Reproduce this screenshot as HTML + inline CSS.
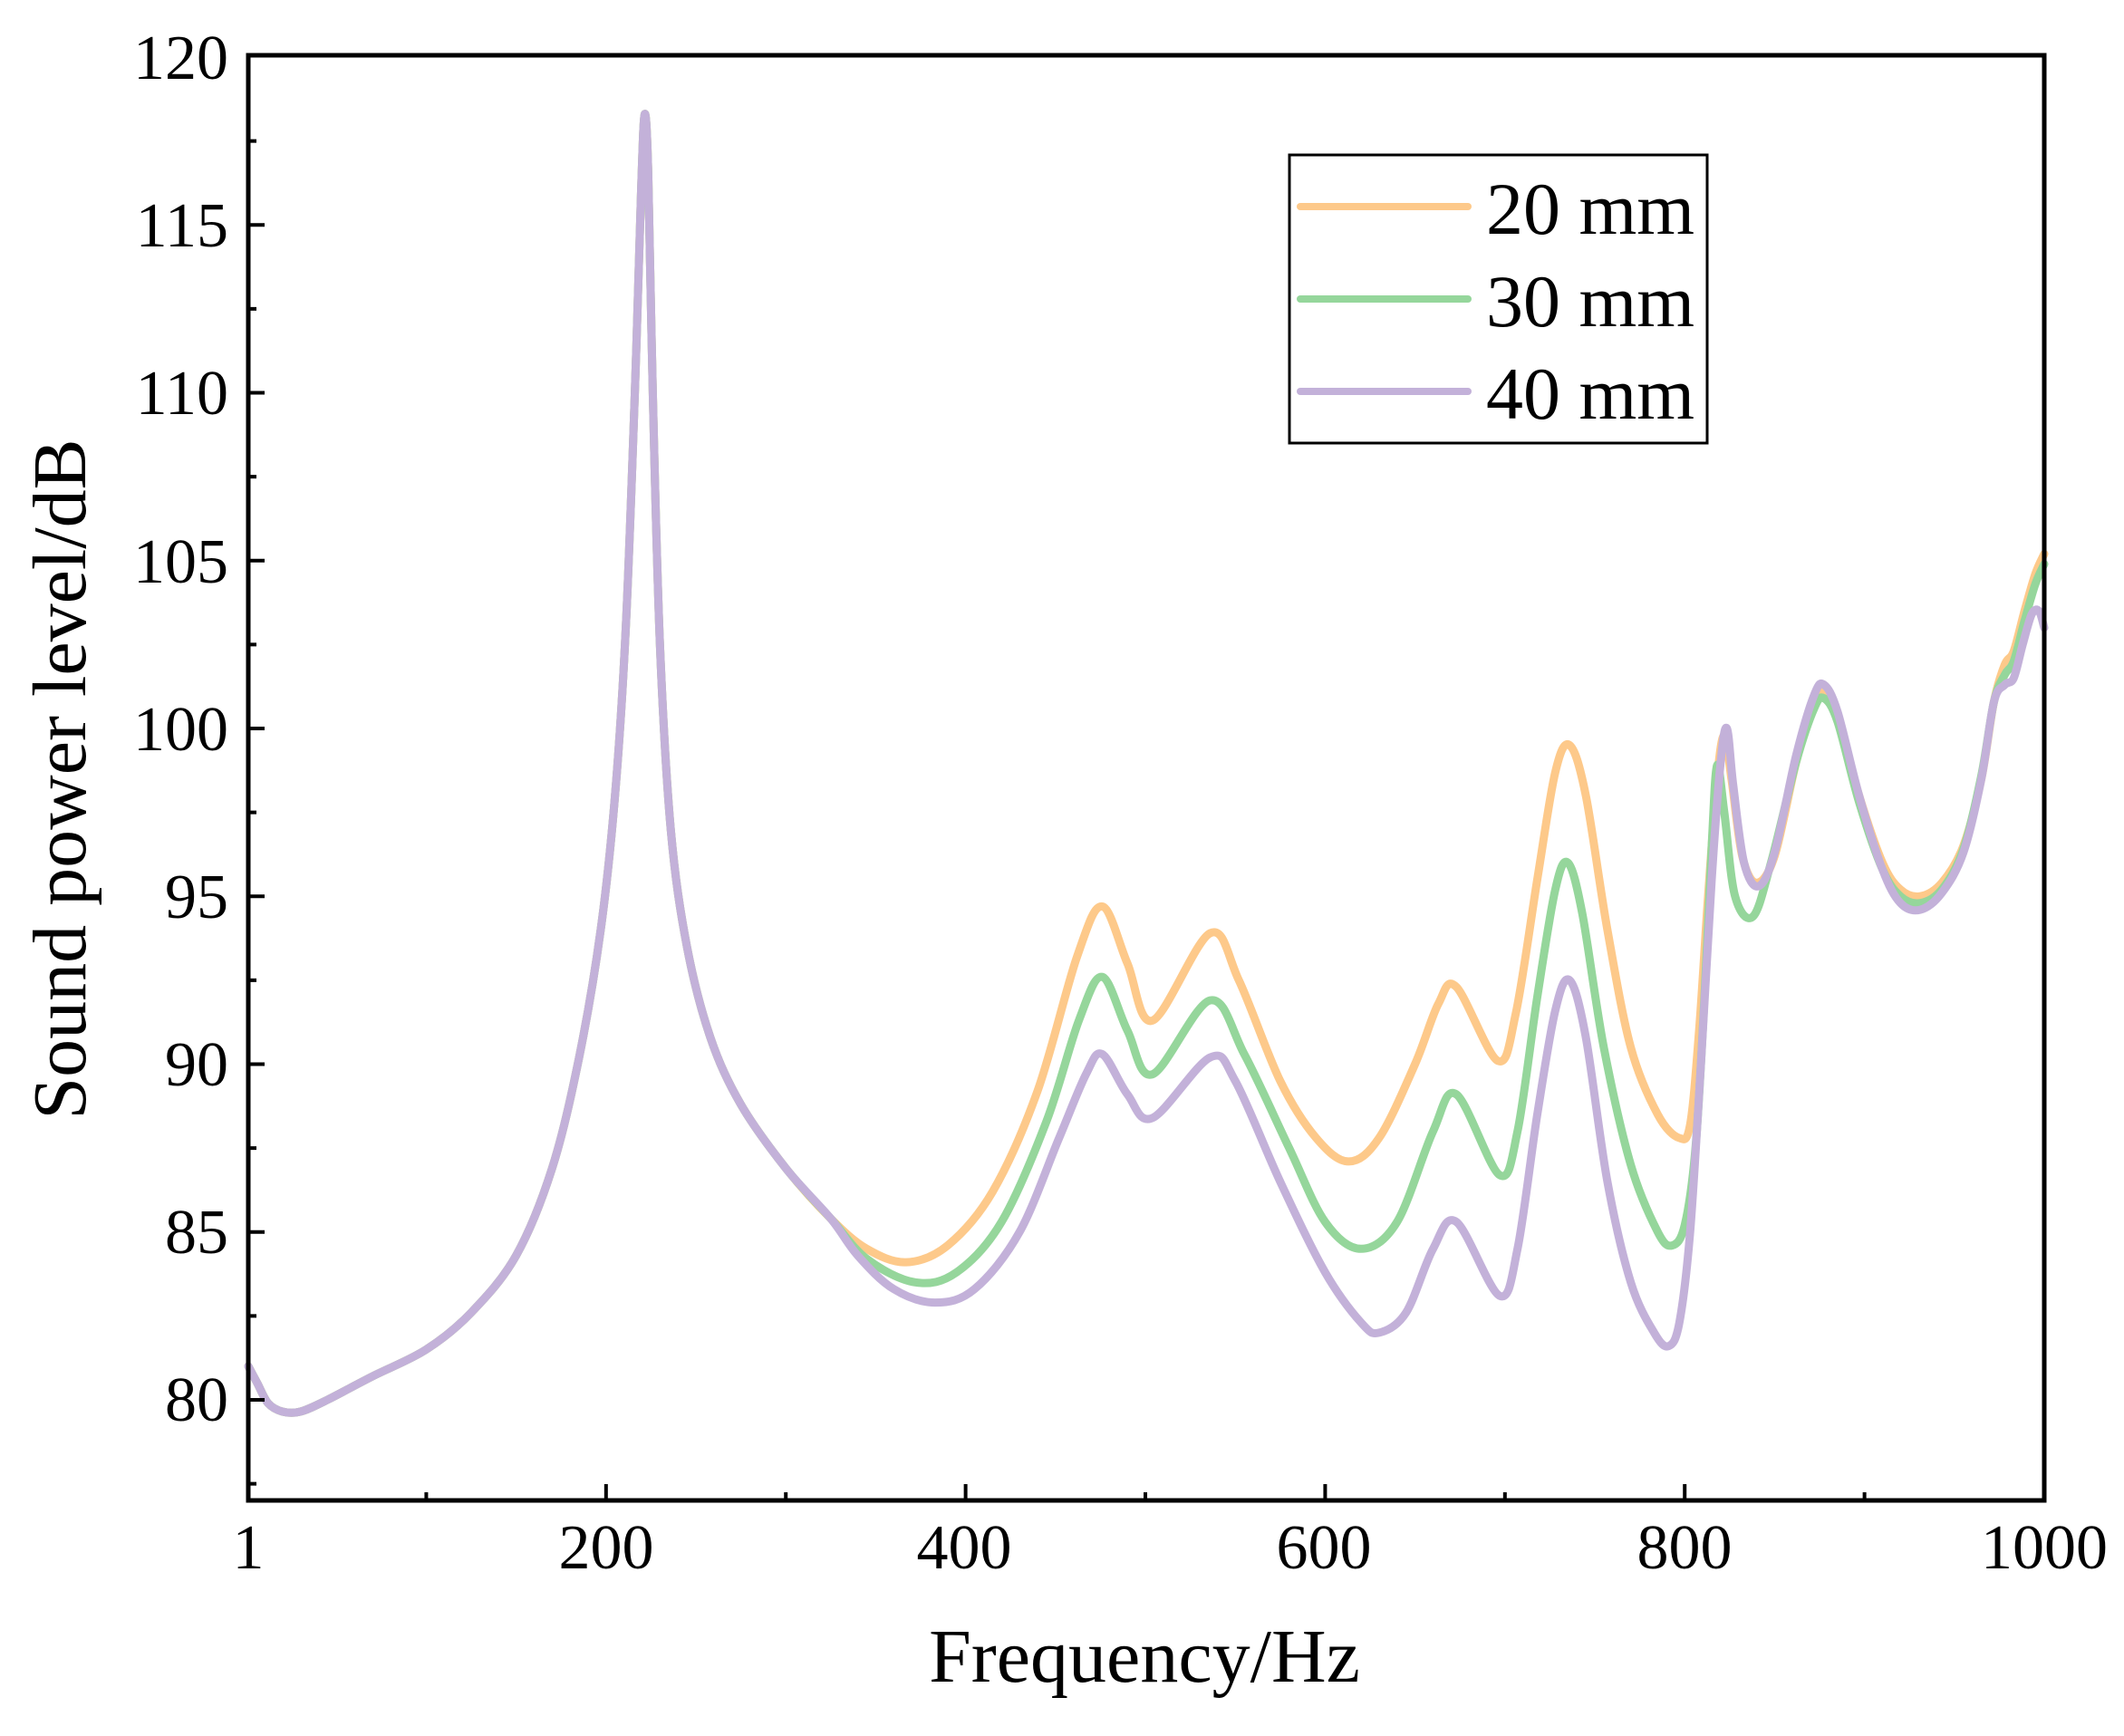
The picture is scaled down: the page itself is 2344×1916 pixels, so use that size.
<!DOCTYPE html>
<html><head><meta charset="utf-8"><style>
html,body{margin:0;padding:0;background:#fff;}
svg{display:block;}
text{font-family:"Liberation Serif",serif;fill:#000;}
</style></head><body>
<svg id="s" width="2344" height="1916" viewBox="0 0 2344 1916" xmlns="http://www.w3.org/2000/svg">
<rect width="2344" height="1916" fill="#fff"/>
<g id="curves" fill="none" stroke-width="9" stroke-linejoin="round" stroke-linecap="round"></g>
<g id="ticks" stroke="#000" stroke-width="4"></g>
<rect x="274" y="61" width="1982" height="1595" fill="none" stroke="#000" stroke-width="5"/>
<g font-size="70" text-anchor="middle">
<text x="274" y="1731">1</text>
<text x="669" y="1731">200</text>
<text x="1064" y="1731">400</text>
<text x="1461" y="1731">600</text>
<text x="1859" y="1731">800</text>
<text x="2256" y="1731">1000</text>
</g>
<g font-size="70" text-anchor="end">
<text x="252" y="87">120</text>
<text x="252" y="272">115</text>
<text x="252" y="457">110</text>
<text x="252" y="643">105</text>
<text x="252" y="828">100</text>
<text x="252" y="1013">95</text>
<text x="252" y="1198">90</text>
<text x="252" y="1383">85</text>
<text x="252" y="1568">80</text>
</g>
<text x="1263" y="1856" font-size="84" text-anchor="middle">Frequency/Hz</text>
<text transform="translate(94,860) rotate(-90)" font-size="84" text-anchor="middle">Sound power level/dB</text>
<rect x="1423" y="171" width="461" height="318" fill="#fff" stroke="#000" stroke-width="3"/>
<line x1="1435" y1="228" x2="1620" y2="228" stroke="#FDC98A" stroke-width="8" stroke-linecap="round"/>
<line x1="1435" y1="330" x2="1620" y2="330" stroke="#95D69B" stroke-width="8" stroke-linecap="round"/>
<line x1="1435" y1="432" x2="1620" y2="432" stroke="#C3B1D9" stroke-width="8" stroke-linecap="round"/>
<g font-size="82">
<text x="1640" y="258">20 mm</text>
<text x="1640" y="360">30 mm</text>
<text x="1640" y="462">40 mm</text>
</g>
</svg>
<script>
var X=function(f){return 274+(f-1)*1.984;};
var Y=function(v){return 63+(120-v)*37.05;};
var common=[[1,81.0],[6,80.5],[12,79.9],[20,79.65],[30,79.65],[45,80.0],[70,80.7],[100,81.5],[125,82.6],[150,84.3],[170,86.9],[185,90.2],[197,94],[205,98],[211,103],[216,110],[219.5,116],[221.5,118.3],[223.5,116.5],[226,110],[230,102.5],[236,97],[245,93.5],[258,90.8],[275,88.8],[300,86.9],[325,85.4]];
var o=common.concat([[345,84.5],[367,84.1],[390,84.6],[415,86.2],[440,89.2],[462,93.2],[476,94.7],[490,93.0],[504,91.3],[536,93.9],[552,92.5],[575,89.5],[595,87.8],[613,87.1],[630,87.8],[650,90],[663,91.8],[673,92.3],[696,90.1],[706,91.5],[718,95.5],[728,98.7],[736,99.5],[745,98],[757,94],[770,90.5],[785,88.5],[797,87.8],[803,88.2],[808,91],[813,95],[818,98.5],[822,99.8],[826,98.5],[832,96.2],[840,95.4],[850,96.2],[862,99],[872,100.8],[877.5,101.1],[885,100.3],[897,98],[910,96],[920,95.2],[931,95.0],[943,95.4],[955,96.5],[965,98.5],[972,100.8],[978,101.9],[983,102.3],[989,103.5],[995,104.6],[1000,105.2]]);
var g=common.concat([[345,84.2],[372,83.5],[395,83.8],[420,85.3],[445,88.3],[463,91.3],[476,92.6],[490,91],[504,89.7],[536,91.9],[555,90.3],[580,87.5],[600,85.3],[620,84.5],[640,85.3],[660,88],[673,89.1],[697,86.7],[707,88],[718,92],[728,95.2],[735,96.0],[743,94.5],[755,90.5],[770,87],[785,85],[793,84.6],[800,85.2],[806,87.5],[811,92],[815,96.5],[818,98.9],[822,97.5],[828,95],[838,94.4],[848,96],[862,99],[872,100.6],[877.5,100.9],[885,100.2],[897,97.8],[910,95.8],[920,95.0],[931,94.8],[943,95.2],[955,96.4],[965,98.6],[972,100.8],[978,101.6],[983,102],[989,103.2],[995,104.3],[1000,104.9]]);
var p=common.concat([[340,84.3],[360,83.3],[383,82.9],[405,83.3],[430,85],[452,87.8],[467,89.7],[476,90.3],[490,89.1],[504,88.4],[536,90.2],[550,89.5],[575,86.5],[600,83.8],[620,82.3],[630,82.0],[645,82.6],[660,84.5],[673,85.3],[697,83.1],[707,84.5],[718,88.5],[728,91.6],[736,92.5],[745,90.8],[757,86.5],[770,83.5],[783,82],[791,81.6],[797,82.3],[803,85],[809,90],[815,95.5],[820,99],[823.5,100],[827,98.3],[833,96],[841,95.3],[850,96.3],[862,99.2],[872,101],[877.5,101.3],[885,100.5],[897,98],[910,95.8],[920,94.8],[931,94.6],[943,95.1],[955,96.3],[965,98.5],[972,100.8],[978,101.3],[983,101.5],[988,102.5],[993,103.4],[997,103.5],[1000,103.0]]);
function path(d){var P=d.map(function(a){return [X(a[0]),Y(a[1])];});var s="M"+P[0][0].toFixed(1)+","+P[0][1].toFixed(1);
for(var i=0;i<P.length-1;i++){var p0=P[i-1]||P[i],p1=P[i],p2=P[i+1],p3=P[i+2]||P[i+1];
var c1=[p1[0]+(p2[0]-p0[0])/6,p1[1]+(p2[1]-p0[1])/6],c2=[p2[0]-(p3[0]-p1[0])/6,p2[1]-(p3[1]-p1[1])/6];
s+="C"+c1[0].toFixed(1)+","+c1[1].toFixed(1)+" "+c2[0].toFixed(1)+","+c2[1].toFixed(1)+" "+p2[0].toFixed(1)+","+p2[1].toFixed(1);}return s;}
var NS="http://www.w3.org/2000/svg",cg=document.getElementById("curves");
[[o,"#FDC98A"],[g,"#95D69B"],[p,"#C3B1D9"]].forEach(function(c){var e=document.createElementNS(NS,"path");e.setAttribute("d",path(c[0]));e.setAttribute("stroke",c[1]);cg.appendChild(e);});
var tg=document.getElementById("ticks");
function ln(x1,y1,x2,y2){var e=document.createElementNS(NS,"line");e.setAttribute("x1",x1);e.setAttribute("y1",y1);e.setAttribute("x2",x2);e.setAttribute("y2",y2);tg.appendChild(e);}
for(var v=77.5;v<120;v+=2.5){var maj=Math.abs(v%5)<0.01;ln(274,Y(v),274+(maj?18:9),Y(v));}
for(var f=100;f<1000;f+=100){var maj2=f%200==0;ln(X(f),1656,X(f),1656-(maj2?18:9));}
</script>
</body></html>
